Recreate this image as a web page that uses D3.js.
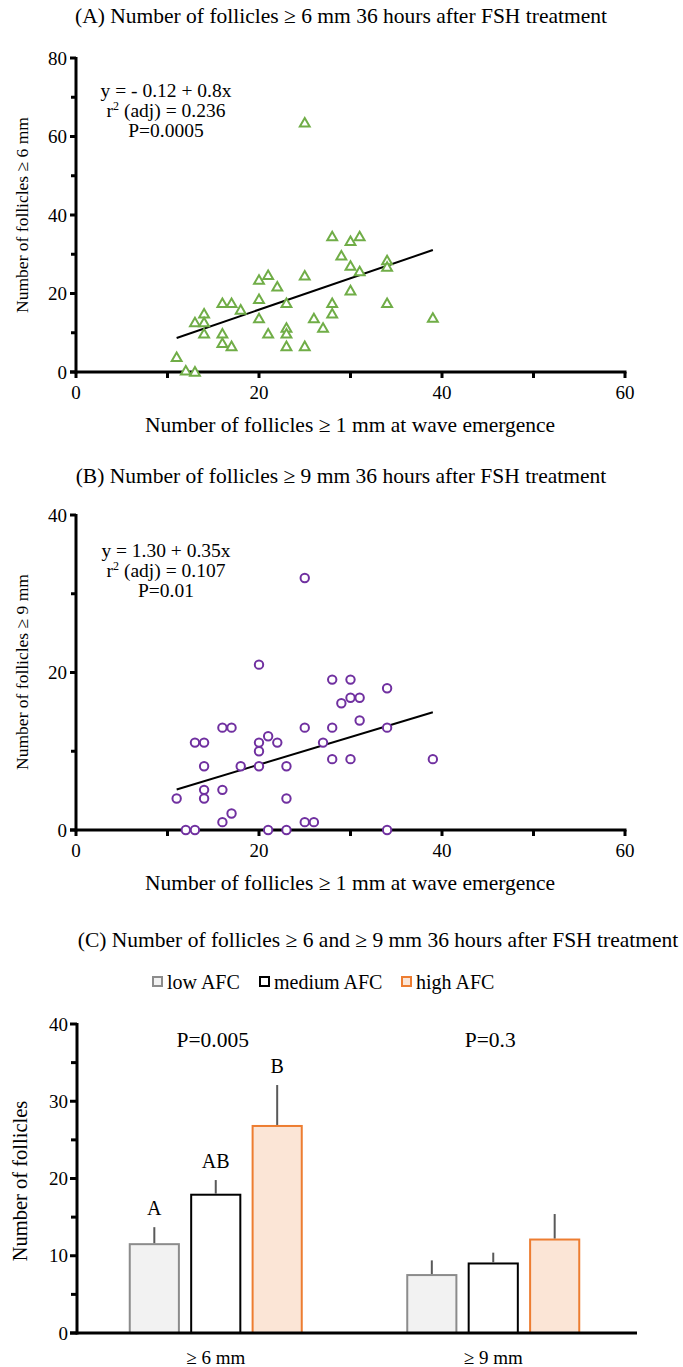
<!DOCTYPE html>
<html>
<head>
<meta charset="utf-8">
<script src="https://cdn.jsdelivr.net/npm/d3@7"></script>
<style>
  html, body { margin: 0; padding: 0; background: #fff; }
  svg { display: block; }
  text { font-family: "Liberation Serif", "Times New Roman", serif; fill: #000; }
</style>
</head>
<body>
<svg id="chart" width="683" height="1367"></svg>
<script>
// ---- Panel A: follicles >= 6 mm vs. follicles >= 1 mm at emergence ----
const afcA = [25, 28, 30, 31, 29, 34, 34, 30, 31, 25, 20, 21, 22, 30, 20, 16, 17, 23, 28, 34,
              18, 14, 13, 14, 20, 26, 28, 39, 27, 23, 14, 16, 21, 23, 16, 17, 23, 25, 11, 12, 13];
const f6 =   [63.5, 34.5, 33.3, 34.5, 29.6, 28.4, 26.7, 27, 25.6, 24.5, 23.4, 24.6, 21.7, 20.7, 18.5, 17.5, 17.5, 17.5, 17.5, 17.5,
              15.8, 14.8, 12.6, 12.6, 13.6, 13.6, 14.8, 13.7, 11.2, 11.2, 9.7, 9.7, 9.7, 9.7, 7.3, 6.5, 6.5, 6.5, 3.7, 0.3, 0];
const fitA = { intercept: -0.12, slope: 0.8, from: 11, to: 39 };
const statsA = ["y = - 0.12 + 0.8x", "r2 (adj) = 0.236", "P=0.0005"];

// ---- Panel B: follicles >= 9 mm vs. follicles >= 1 mm at emergence ----
const afcB = [25, 20, 28, 30, 34, 29, 30, 31, 31, 16, 17, 25, 28, 34, 21, 13, 14, 20, 22, 27,
              20, 14, 18, 20, 23, 28, 30, 39, 14, 16, 11, 14, 23, 17, 16, 25, 26, 12, 13, 21, 23, 34];
const f9 =   [32, 21, 19.1, 19.1, 18, 16.1, 16.8, 16.8, 13.9, 13, 13, 13, 13, 13, 11.9, 11.1, 11.1, 11.1, 11.1, 11.1,
              10, 8.1, 8.1, 8.1, 8.1, 9, 9, 9, 5.1, 5.1, 4, 4, 4, 2.1, 1, 1, 1, 0, 0, 0, 0, 0];
const fitB = { intercept: 1.30, slope: 0.35, from: 11, to: 39 };
const statsB = ["y = 1.30 + 0.35x", "r2 (adj) = 0.107", "P=0.01"];

// ---- Panel C: mean (+SEM) follicle numbers by AFC group ----
const sizeClasses = ["≥ 6 mm", "≥ 9 mm"];
const afcGroups = ["low AFC", "medium AFC", "high AFC"];
const meanLow    = [11.5, 7.5];
const meanMedium = [17.9, 9.0];
const meanHigh   = [26.8, 12.1];
const semLow     = [2.2, 1.9];
const semMedium  = [1.9, 1.4];
const semHigh    = [5.3, 3.3];
const groupLetters = [["A", "AB", "B"], ["", "", ""]];
const groupP = ["P=0.005", "P=0.3"];

const yTicksA = [0, 10, 20, 30, 40, 50, 60, 70, 80];
const yTicksB = [0, 10, 20, 30, 40];
const yTicksC = [0, 5, 10, 15, 20, 25, 30, 35, 40];
const xTicks = [0, 10, 20, 30, 40, 50, 60];

const svg = d3.select("#chart");
const FS_TICK = 19;
const FS_TITLE = 21.5;
const FS_XTITLE = 21.5;
const FS_YTITLE = 17.5;
const FS_STATS = 19.5;
const AXIS_W = 3;

function drawTitle(txt, x, y) {
  svg.append("text").attr("x", x).attr("y", y).attr("text-anchor", "middle")
    .attr("font-size", FS_TITLE).text(txt);
}

function yAxis(g, y, x0, ticks, labelEvery, tickLen) {
  g.append("line").attr("x1", x0).attr("x2", x0)
    .attr("y1", y.range()[0] + AXIS_W / 2).attr("y2", y.range()[1] - 1)
    .attr("stroke", "#000").attr("stroke-width", AXIS_W);
  ticks.forEach(t => {
    const major = t % labelEvery === 0;
    g.append("line").attr("x1", x0 - (major ? tickLen : tickLen - 1)).attr("x2", x0)
      .attr("y1", y(t)).attr("y2", y(t)).attr("stroke", "#000").attr("stroke-width", AXIS_W);
    if (major) {
      g.append("text").attr("x", x0 - 9).attr("y", y(t) + 6.5)
        .attr("text-anchor", "end").attr("font-size", FS_TICK).text(t);
    }
  });
}

function scatterPanel(opts) {
  const g = svg.append("g");
  const x = d3.scaleLinear().domain([0, 60]).range([76, 625]);
  const y = d3.scaleLinear().domain(opts.yDomain).range(opts.yRange);

  // x axis line and ticks (downward)
  g.append("line").attr("x1", x(0) - 6).attr("x2", x(60) + 1.5)
    .attr("y1", y(0)).attr("y2", y(0)).attr("stroke", "#000").attr("stroke-width", AXIS_W);
  xTicks.forEach(t => {
    g.append("line").attr("x1", x(t)).attr("x2", x(t))
      .attr("y1", y(0)).attr("y2", y(0) + 6).attr("stroke", "#000").attr("stroke-width", AXIS_W);
    if (t % 20 === 0) {
      g.append("text").attr("x", x(t)).attr("y", y(0) + 27)
        .attr("text-anchor", "middle").attr("font-size", FS_TICK).text(t);
    }
  });
  yAxis(g, y, x(0), opts.yTicks, opts.labelEvery, 6);

  // axis titles
  g.append("text").attr("x", 350).attr("y", y(0) + 60).attr("text-anchor", "middle")
    .attr("font-size", FS_XTITLE).text("Number of follicles ≥ 1 mm at wave emergence");
  g.append("text").attr("transform", `translate(28,${opts.yTitleY}) rotate(-90)`)
    .attr("text-anchor", "middle").attr("font-size", FS_YTITLE).text(opts.yTitle);

  // fitted regression line
  const fit = opts.fit;
  g.append("line")
    .attr("x1", x(fit.from)).attr("y1", y(fit.intercept + fit.slope * fit.from))
    .attr("x2", x(fit.to)).attr("y2", y(fit.intercept + fit.slope * fit.to))
    .attr("stroke", "#000").attr("stroke-width", 2);

  // points
  const pts = opts.xs.map((v, i) => [v, opts.ys[i]]);
  if (opts.marker === "triangle") {
    const tri = d3.symbol().type(d3.symbolTriangle).size(42);
    g.selectAll("path.pt").data(pts).join("path").attr("class", "pt")
      .attr("d", tri).attr("transform", d => `translate(${x(d[0])},${y(d[1]) + 0.8})`)
      .attr("fill", "#fff").attr("stroke", opts.color).attr("stroke-width", 2);
  } else {
    g.selectAll("circle.pt").data(pts).join("circle").attr("class", "pt")
      .attr("cx", d => x(d[0])).attr("cy", d => y(d[1])).attr("r", 4.2)
      .attr("fill", "#fff").attr("stroke", opts.color).attr("stroke-width", 2);
  }

  // regression statistics
  opts.stats.forEach((s, i) => {
    const line = g.append("text").attr("x", 166).attr("y", opts.statsY + i * 20)
      .attr("text-anchor", "middle").attr("font-size", FS_STATS);
    if (s.startsWith("r2")) {
      line.append("tspan").text("r");
      line.append("tspan").attr("font-size", 12).attr("dy", -7).text("2");
      line.append("tspan").attr("dy", 7).text(s.slice(2));
    } else {
      line.text(s);
    }
  });
}

drawTitle("(A) Number of follicles ≥ 6 mm 36 hours after FSH treatment", 341, 23);
scatterPanel({
  xs: afcA, ys: f6, yDomain: [0, 80], yRange: [372, 58], yTicks: yTicksA, labelEvery: 20,
  yTitle: "Number of follicles ≥ 6 mm", yTitleY: 215, fit: fitA, stats: statsA, statsY: 97,
  marker: "triangle", color: "#70ad47"
});

drawTitle("(B) Number of follicles ≥ 9 mm 36 hours after FSH treatment", 341, 483);
scatterPanel({
  xs: afcB, ys: f9, yDomain: [0, 40], yRange: [830, 515], yTicks: yTicksB, labelEvery: 20,
  yTitle: "Number of follicles ≥ 9 mm", yTitleY: 672, fit: fitB, stats: statsB, statsY: 557,
  marker: "circle", color: "#7030a0"
});

// ---- Panel C ----
drawTitle("(C) Number of follicles ≥ 6 and ≥ 9 mm 36 hours after FSH treatment", 378, 947);

const fills = ["#f2f2f2", "#ffffff", "#fbe5d6"];
const strokes = ["#8c8c8c", "#000000", "#ed7d31"];

// legend
const legendX = [153, 260, 402];
afcGroups.forEach((name, i) => {
  svg.append("rect").attr("x", legendX[i]).attr("y", 977).attr("width", 9).attr("height", 9)
    .attr("fill", fills[i]).attr("stroke", strokes[i]).attr("stroke-width", 2);
  svg.append("text").attr("x", legendX[i] + 14).attr("y", 988.5).attr("font-size", 20).text(name);
});

const gC = svg.append("g");
const xC = d3.scaleBand().domain(sizeClasses).range([77, 632]);
const xInner = d3.scaleBand().domain(afcGroups).range([-86, 86]).paddingInner(0.2);
const yC = d3.scaleLinear().domain([0, 40]).range([1333, 1024]);

const barData = [];
sizeClasses.forEach((c, ci) => {
  [meanLow, meanMedium, meanHigh].forEach((m, gi) => {
    const sem = [semLow, semMedium, semHigh][gi];
    barData.push({ cls: c, ci, grp: afcGroups[gi], gi, mean: m[ci], sem: sem[ci] });
  });
});

const bx = d => xC(d.cls) + xC.bandwidth() / 2 + xInner(d.grp);
gC.selectAll("rect.bar").data(barData).join("rect").attr("class", "bar")
  .attr("x", bx).attr("width", xInner.bandwidth())
  .attr("y", d => yC(d.mean)).attr("height", d => yC(0) - yC(d.mean))
  .attr("fill", d => fills[d.gi]).attr("stroke", d => strokes[d.gi]).attr("stroke-width", 2);

gC.selectAll("line.err").data(barData).join("line").attr("class", "err")
  .attr("x1", d => bx(d) + xInner.bandwidth() / 2).attr("x2", d => bx(d) + xInner.bandwidth() / 2)
  .attr("y1", d => yC(d.mean) - 1).attr("y2", d => yC(d.mean + d.sem))
  .attr("stroke", "#595959").attr("stroke-width", 2);

gC.selectAll("text.letter").data(barData.filter(d => groupLetters[d.ci][d.gi])).join("text")
  .attr("class", "letter")
  .attr("x", d => bx(d) + xInner.bandwidth() / 2).attr("y", d => yC(d.mean + d.sem) - 12)
  .attr("text-anchor", "middle").attr("font-size", 20).text(d => groupLetters[d.ci][d.gi]);

sizeClasses.forEach((c, ci) => {
  gC.append("text").attr("x", xC(c) + xC.bandwidth() / 2 - 3).attr("y", 1047)
    .attr("text-anchor", "middle").attr("font-size", 21.5).text(groupP[ci]);
  gC.append("text").attr("x", xC(c) + xC.bandwidth() / 2).attr("y", 1364)
    .attr("text-anchor", "middle").attr("font-size", FS_TICK).text(c);
});

// axes
gC.append("line").attr("x1", 70).attr("x2", 637).attr("y1", yC(0)).attr("y2", yC(0))
  .attr("stroke", "#000").attr("stroke-width", AXIS_W);
yAxis(gC, yC, 77, yTicksC, 10, 7);
gC.append("text").attr("transform", `translate(27,1181) rotate(-90)`)
  .attr("text-anchor", "middle").attr("font-size", 20.5).text("Number of follicles");
</script>
</body>
</html>
